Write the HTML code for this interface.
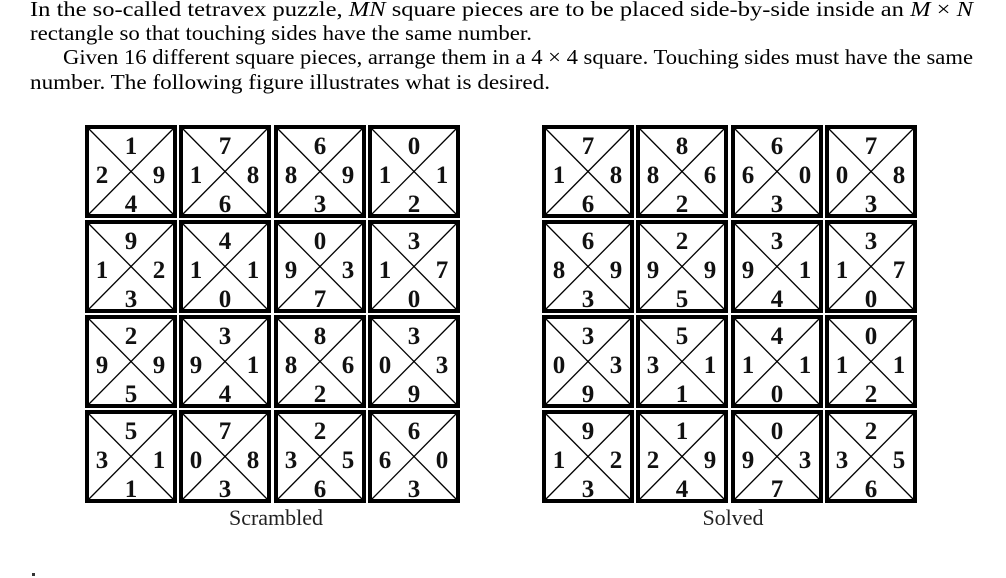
<!DOCTYPE html>
<html><head><meta charset="utf-8"><style>
html,body{margin:0;padding:0;background:#fff;}
svg{display:block;}
.t{font-family:"Liberation Serif",serif;font-size:21px;fill:#000;}
.d{font-family:"Liberation Serif",serif;font-size:25px;font-weight:bold;fill:#111;text-anchor:middle;}
.c{font-family:"Liberation Serif",serif;font-size:22px;fill:#222;text-anchor:middle;}
</style></head><body>
<svg width="1006" height="578" viewBox="0 0 1006 578" xmlns="http://www.w3.org/2000/svg">
<defs>
<g id="f">
<rect x="2" y="2" width="88" height="89" fill="none" stroke="#000" stroke-width="4"/>
<line x1="3" y1="3" x2="89" y2="90" stroke="#000" stroke-width="1.3"/>
<line x1="89" y1="3" x2="3" y2="90" stroke="#000" stroke-width="1.3"/>
</g>
</defs>
<text class="t" x="30" y="16" textLength="943" lengthAdjust="spacingAndGlyphs">In the so-called tetravex puzzle, <tspan font-style="italic">MN</tspan> square pieces are to be placed side-by-side inside an <tspan font-style="italic">M</tspan> × <tspan font-style="italic">N</tspan></text>
<text class="t" x="30" y="40" textLength="502" lengthAdjust="spacingAndGlyphs">rectangle so that touching sides have the same number.</text>
<text class="t" x="63" y="64" textLength="910" lengthAdjust="spacingAndGlyphs">Given 16 different square pieces, arrange them in a 4 × 4 square. Touching sides must have the same</text>
<text class="t" x="30" y="89" textLength="520" lengthAdjust="spacingAndGlyphs">number. The following figure illustrates what is desired.</text>

<!-- Scrambled -->
<g transform="translate(85,125)"><use href="#f"/><text class="d" x="46" y="29">1</text><text class="d" x="17" y="58">2</text><text class="d" x="74" y="58">9</text><text class="d" x="46" y="87">4</text></g>
<g transform="translate(179,125)"><use href="#f"/><text class="d" x="46" y="29">7</text><text class="d" x="17" y="58">1</text><text class="d" x="74" y="58">8</text><text class="d" x="46" y="87">6</text></g>
<g transform="translate(274,125)"><use href="#f"/><text class="d" x="46" y="29">6</text><text class="d" x="17" y="58">8</text><text class="d" x="74" y="58">9</text><text class="d" x="46" y="87">3</text></g>
<g transform="translate(368,125)"><use href="#f"/><text class="d" x="46" y="29">0</text><text class="d" x="17" y="58">1</text><text class="d" x="74" y="58">1</text><text class="d" x="46" y="87">2</text></g>

<g transform="translate(85,220)"><use href="#f"/><text class="d" x="46" y="29">9</text><text class="d" x="17" y="58">1</text><text class="d" x="74" y="58">2</text><text class="d" x="46" y="87">3</text></g>
<g transform="translate(179,220)"><use href="#f"/><text class="d" x="46" y="29">4</text><text class="d" x="17" y="58">1</text><text class="d" x="74" y="58">1</text><text class="d" x="46" y="87">0</text></g>
<g transform="translate(274,220)"><use href="#f"/><text class="d" x="46" y="29">0</text><text class="d" x="17" y="58">9</text><text class="d" x="74" y="58">3</text><text class="d" x="46" y="87">7</text></g>
<g transform="translate(368,220)"><use href="#f"/><text class="d" x="46" y="29">3</text><text class="d" x="17" y="58">1</text><text class="d" x="74" y="58">7</text><text class="d" x="46" y="87">0</text></g>

<g transform="translate(85,315)"><use href="#f"/><text class="d" x="46" y="29">2</text><text class="d" x="17" y="58">9</text><text class="d" x="74" y="58">9</text><text class="d" x="46" y="87">5</text></g>
<g transform="translate(179,315)"><use href="#f"/><text class="d" x="46" y="29">3</text><text class="d" x="17" y="58">9</text><text class="d" x="74" y="58">1</text><text class="d" x="46" y="87">4</text></g>
<g transform="translate(274,315)"><use href="#f"/><text class="d" x="46" y="29">8</text><text class="d" x="17" y="58">8</text><text class="d" x="74" y="58">6</text><text class="d" x="46" y="87">2</text></g>
<g transform="translate(368,315)"><use href="#f"/><text class="d" x="46" y="29">3</text><text class="d" x="17" y="58">0</text><text class="d" x="74" y="58">3</text><text class="d" x="46" y="87">9</text></g>

<g transform="translate(85,410)"><use href="#f"/><text class="d" x="46" y="29">5</text><text class="d" x="17" y="58">3</text><text class="d" x="74" y="58">1</text><text class="d" x="46" y="87">1</text></g>
<g transform="translate(179,410)"><use href="#f"/><text class="d" x="46" y="29">7</text><text class="d" x="17" y="58">0</text><text class="d" x="74" y="58">8</text><text class="d" x="46" y="87">3</text></g>
<g transform="translate(274,410)"><use href="#f"/><text class="d" x="46" y="29">2</text><text class="d" x="17" y="58">3</text><text class="d" x="74" y="58">5</text><text class="d" x="46" y="87">6</text></g>
<g transform="translate(368,410)"><use href="#f"/><text class="d" x="46" y="29">6</text><text class="d" x="17" y="58">6</text><text class="d" x="74" y="58">0</text><text class="d" x="46" y="87">3</text></g>

<text class="c" x="276" y="525">Scrambled</text>

<!-- Solved -->
<g transform="translate(542,125)"><use href="#f"/><text class="d" x="46" y="29">7</text><text class="d" x="17" y="58">1</text><text class="d" x="74" y="58">8</text><text class="d" x="46" y="87">6</text></g>
<g transform="translate(636,125)"><use href="#f"/><text class="d" x="46" y="29">8</text><text class="d" x="17" y="58">8</text><text class="d" x="74" y="58">6</text><text class="d" x="46" y="87">2</text></g>
<g transform="translate(731,125)"><use href="#f"/><text class="d" x="46" y="29">6</text><text class="d" x="17" y="58">6</text><text class="d" x="74" y="58">0</text><text class="d" x="46" y="87">3</text></g>
<g transform="translate(825,125)"><use href="#f"/><text class="d" x="46" y="29">7</text><text class="d" x="17" y="58">0</text><text class="d" x="74" y="58">8</text><text class="d" x="46" y="87">3</text></g>

<g transform="translate(542,220)"><use href="#f"/><text class="d" x="46" y="29">6</text><text class="d" x="17" y="58">8</text><text class="d" x="74" y="58">9</text><text class="d" x="46" y="87">3</text></g>
<g transform="translate(636,220)"><use href="#f"/><text class="d" x="46" y="29">2</text><text class="d" x="17" y="58">9</text><text class="d" x="74" y="58">9</text><text class="d" x="46" y="87">5</text></g>
<g transform="translate(731,220)"><use href="#f"/><text class="d" x="46" y="29">3</text><text class="d" x="17" y="58">9</text><text class="d" x="74" y="58">1</text><text class="d" x="46" y="87">4</text></g>
<g transform="translate(825,220)"><use href="#f"/><text class="d" x="46" y="29">3</text><text class="d" x="17" y="58">1</text><text class="d" x="74" y="58">7</text><text class="d" x="46" y="87">0</text></g>

<g transform="translate(542,315)"><use href="#f"/><text class="d" x="46" y="29">3</text><text class="d" x="17" y="58">0</text><text class="d" x="74" y="58">3</text><text class="d" x="46" y="87">9</text></g>
<g transform="translate(636,315)"><use href="#f"/><text class="d" x="46" y="29">5</text><text class="d" x="17" y="58">3</text><text class="d" x="74" y="58">1</text><text class="d" x="46" y="87">1</text></g>
<g transform="translate(731,315)"><use href="#f"/><text class="d" x="46" y="29">4</text><text class="d" x="17" y="58">1</text><text class="d" x="74" y="58">1</text><text class="d" x="46" y="87">0</text></g>
<g transform="translate(825,315)"><use href="#f"/><text class="d" x="46" y="29">0</text><text class="d" x="17" y="58">1</text><text class="d" x="74" y="58">1</text><text class="d" x="46" y="87">2</text></g>

<g transform="translate(542,410)"><use href="#f"/><text class="d" x="46" y="29">9</text><text class="d" x="17" y="58">1</text><text class="d" x="74" y="58">2</text><text class="d" x="46" y="87">3</text></g>
<g transform="translate(636,410)"><use href="#f"/><text class="d" x="46" y="29">1</text><text class="d" x="17" y="58">2</text><text class="d" x="74" y="58">9</text><text class="d" x="46" y="87">4</text></g>
<g transform="translate(731,410)"><use href="#f"/><text class="d" x="46" y="29">0</text><text class="d" x="17" y="58">9</text><text class="d" x="74" y="58">3</text><text class="d" x="46" y="87">7</text></g>
<g transform="translate(825,410)"><use href="#f"/><text class="d" x="46" y="29">2</text><text class="d" x="17" y="58">3</text><text class="d" x="74" y="58">5</text><text class="d" x="46" y="87">6</text></g>

<text class="c" x="733" y="525">Solved</text>
<rect x="32" y="573" width="3" height="3" fill="#333"/>
</svg>
</body></html>
